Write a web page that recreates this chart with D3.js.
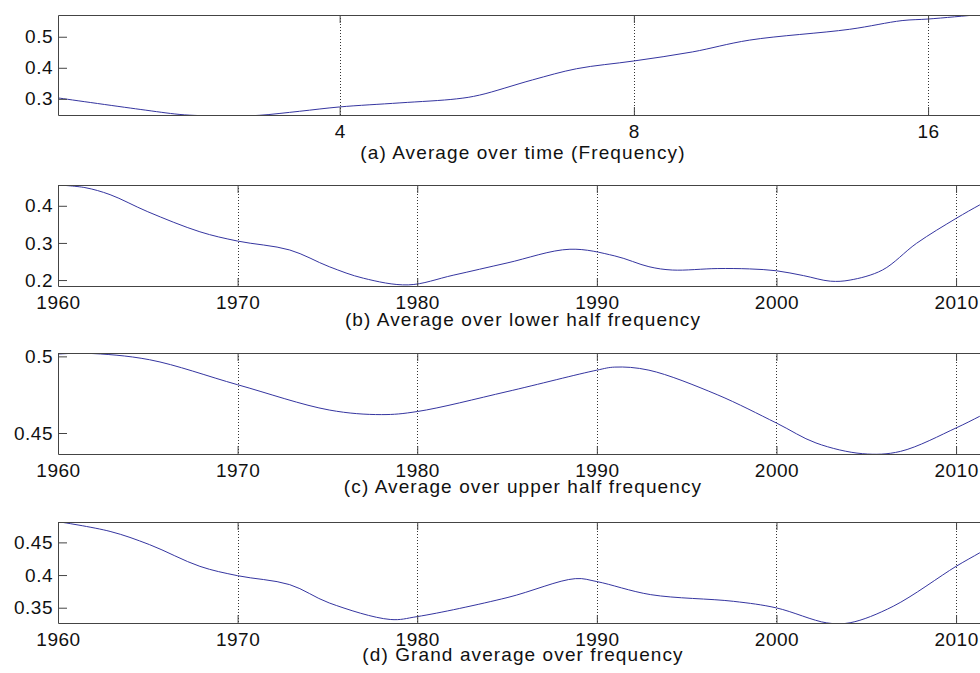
<!DOCTYPE html>
<html><head><meta charset="utf-8">
<script src="https://cdn.jsdelivr.net/npm/d3@7"></script>
<style>body{margin:0;background:#fff}svg{display:block}</style>
</head><body><svg id="c" width="980" height="673"></svg>
<script>
// ---- data ----
const freq      = [2.06, 2.50, 2.74, 2.88, 3.09, 3.31, 3.64, 4.0, 4.61, 5.27, 5.56, 6.30, 6.99, 8.0, 9.18, 10.5, 13.3, 15.05, 16.0, 18.04, 18.6];
const avgTime   = [0.303, 0.266, 0.250, 0.246, 0.244, 0.247, 0.260, 0.274, 0.287, 0.300, 0.312, 0.361, 0.397, 0.422, 0.451, 0.489, 0.524, 0.552, 0.557, 0.571, 0.574];

const yearsB    = [1960, 1961.5, 1962.9, 1965, 1967.9, 1970, 1972.9, 1975.1, 1977, 1979.5, 1982, 1985, 1988.5, 1991, 1992.9, 1994.2, 1996.7, 1998.5, 2000, 2001.5, 2003, 2004.1, 2005.9, 2007.8, 2010, 2011.3, 2012];
const lowerHalf = [0.456, 0.449, 0.430, 0.384, 0.330, 0.305, 0.281, 0.236, 0.205, 0.187, 0.213, 0.246, 0.283, 0.265, 0.236, 0.227, 0.231, 0.230, 0.225, 0.212, 0.197, 0.200, 0.227, 0.299, 0.366, 0.402, 0.420];

const yearsC    = [1960, 1961.6, 1965.1, 1970, 1975.1, 1978, 1980, 1985, 1990, 1991, 1992.9, 1996.7, 2000, 2002.2, 2004.8, 2006.9, 2010, 2011.3, 2012];
const upperHalf = [0.5015, 0.502, 0.4978, 0.4815, 0.465, 0.462, 0.464, 0.477, 0.491, 0.493, 0.491, 0.475, 0.4565, 0.4435, 0.4365, 0.438, 0.4533, 0.4608, 0.465];

const yearsD    = [1960, 1962.9, 1965.1, 1967.9, 1970, 1972.9, 1975.1, 1978.5, 1980, 1985, 1988.8, 1990, 1993, 1997.6, 2000, 2002.8, 2004.1, 2006.5, 2010, 2011.3, 2012];
const grandAvg  = [0.4817, 0.4668, 0.4465, 0.4133, 0.399, 0.3853, 0.3573, 0.332, 0.3364, 0.3654, 0.3945, 0.390, 0.370, 0.3598, 0.3497, 0.3268, 0.327, 0.3522, 0.4133, 0.4338, 0.445];

const freqTicks = [4, 8, 16];
const yearTicks = [1960, 1970, 1980, 1990, 2000, 2010];
const yTicksA = [0.3, 0.4, 0.5];
const yTicksB = [0.2, 0.3, 0.4];
const yTicksC = [0.45, 0.5];
const yTicksD = [0.35, 0.4, 0.45];
const titles = ["(a) Average over time (Frequency)", "(b) Average over lower half frequency",
                "(c) Average over upper half frequency", "(d) Grand average over frequency"];

// ---- layout ----
const svg = d3.select("#c");
const left = 58, right = 992;
const FONT = "Liberation Sans, Arial, sans-serif";
const panels = [
  {x: freq,   y: avgTime,   log: true,  xDom: [2.06, 18.6], xt: freqTicks, yDom: [0.248, 0.570], yt: yTicksA, top: 15,  bottom: 115, titleY: 159},
  {x: yearsB, y: lowerHalf, log: false, xDom: [1960, 2012], xt: yearTicks, yDom: [0.184, 0.456], yt: yTicksB, top: 185, bottom: 286, titleY: 326},
  {x: yearsC, y: upperHalf, log: false, xDom: [1960, 2012], xt: yearTicks, yDom: [0.4363, 0.5022], yt: yTicksC, top: 353, bottom: 454, titleY: 493},
  {x: yearsD, y: grandAvg,  log: false, xDom: [1960, 2012], xt: yearTicks, yDom: [0.3266, 0.4812], yt: yTicksD, top: 522, bottom: 623, titleY: 661},
];

const defs = svg.append("defs");
panels.forEach((p, i) => {
  const xs = (p.log ? d3.scaleLog().base(2) : d3.scaleLinear()).domain(p.xDom).range([left, right]);
  const ys = d3.scaleLinear().domain(p.yDom).range([p.bottom, p.top]);
  const g = svg.append("g");

  defs.append("clipPath").attr("id", "clip" + i).append("rect")
    .attr("x", left).attr("y", p.top).attr("width", right - left).attr("height", p.bottom - p.top);

  // dotted grid
  g.selectAll(".grid").data(p.xt).join("line")
    .attr("x1", d => Math.round(xs(d)) + 0.5).attr("x2", d => Math.round(xs(d)) + 0.5)
    .attr("y1", p.top).attr("y2", p.bottom)
    .attr("stroke", "#333").attr("stroke-width", 1).attr("stroke-dasharray", "1,2");

  // curve
  const pts = p.x.map((v, k) => [v, p.y[k]]);
  g.append("path").datum(pts)
    .attr("clip-path", `url(#clip${i})`)
    .attr("fill", "none").attr("stroke", "#3535a0").attr("stroke-width", 1)
    .attr("d", d3.line().x(d => xs(d[0])).y(d => ys(d[1])).curve(d3.curveCatmullRom.alpha(0.5)));

  // axes (box with inward ticks)
  const tl = 8;
  const axB = d3.axisBottom(xs).tickValues(p.xt).tickSizeInner(-tl).tickSizeOuter(0).tickFormat(d => String(d));
  const axT = d3.axisTop(xs).tickValues(p.xt).tickSizeInner(-tl).tickSizeOuter(0).tickFormat("");
  const axL = d3.axisLeft(ys).tickValues(p.yt).tickSizeInner(-9).tickSizeOuter(0).tickFormat(d => String(d));
  const axR = d3.axisRight(ys).tickValues(p.yt).tickSizeInner(-9).tickSizeOuter(0).tickFormat("");

  const styleAx = sel => {
    sel.selectAll("path").attr("stroke", "#444");
    sel.selectAll("line").attr("stroke", "#444");
    sel.selectAll("text").attr("fill", "#111").style("font-family", FONT).style("font-size", "19px").style("letter-spacing", "0.5px");
  };
  g.append("g").attr("transform", `translate(0,${p.bottom})`).call(axB).call(styleAx)
    .call(s => s.selectAll("text").attr("dy", "0.72em").attr("y", 9));
  g.append("g").attr("transform", `translate(0,${p.top})`).call(axT).call(styleAx);
  g.append("g").attr("transform", `translate(${left},0)`).call(axL).call(styleAx)
    .call(s => s.selectAll("text").attr("x", -5));
  g.append("g").attr("transform", `translate(${right},0)`).call(axR).call(styleAx);
  svg.selectAll(".domain").attr("stroke-width", 1);

  // title
  g.append("text").attr("x", (left + right) / 2 - 2).attr("y", p.titleY)
    .attr("text-anchor", "middle").attr("fill", "#111")
    .style("font-family", FONT).style("font-size", "19px").style("letter-spacing", "1.1px")
    .text(titles[i]);
});
</script></body></html>
